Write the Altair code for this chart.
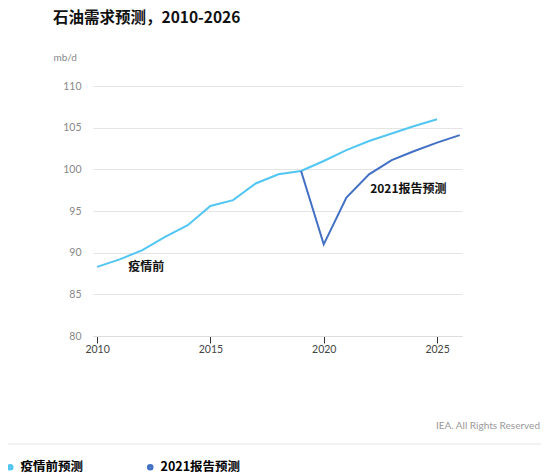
import altair as alt
import pandas as pd

# ---- data ----
years_pre = [2010, 2011, 2012, 2013, 2014, 2015, 2016, 2017, 2018, 2019,
             2020, 2021, 2022, 2023, 2024, 2025]
demand_pre = [88.3, 89.2, 90.3, 91.9, 93.3, 95.6, 96.3, 98.3, 99.4, 99.8,
              101.0, 102.3, 103.4, 104.3, 105.2, 106.0]

years_2021 = [2019, 2020, 2021, 2022, 2023, 2024, 2025, 2026]
demand_2021 = [99.8, 91.0, 96.6, 99.4, 101.1, 102.2, 103.2, 104.1]

series_names = ["疫情前预测", "2021报告预测"]
series_colors = ["#52c6f2", "#4270c4"]

x_ticks = [2010, 2015, 2020, 2025]
y_ticks = [80, 85, 90, 95, 100, 105, 110]

title_text = "石油需求预测，2010-2026"
unit_text = "mb/d"
source_text = "IEA. All Rights Reserved"
label_pre = "疫情前"
label_2021 = "2021报告预测"

df = pd.concat([
    pd.DataFrame({"year": years_pre, "value": demand_pre, "series": series_names[0]}),
    pd.DataFrame({"year": years_2021, "value": demand_2021, "series": series_names[1]}),
], ignore_index=True)

one = alt.Data(values=[{"k": 0}])

NUM_FONT = "Lato"
CJK_FONT = "Noto Sans CJK SC"

lines = alt.Chart(df).mark_line(strokeWidth=2).encode(
    x=alt.X("year:Q",
            scale=alt.Scale(domain=[2009.82, 2026.1], nice=False, zero=False),
            axis=alt.Axis(values=x_ticks, format="d", grid=False, title=None,
                          domainColor="#dddddd", tickColor="#333333", tickSize=7,
                          labelColor="#444444", labelFont=NUM_FONT, labelFontSize=10.5,
                          labelPadding=1)),
    y=alt.Y("value:Q",
            scale=alt.Scale(domain=[80, 110], nice=False, zero=False),
            axis=alt.Axis(values=y_ticks, grid=True, gridColor="#e4e4e4", domain=False,
                          ticks=False, labelColor="#888888", labelFont=NUM_FONT,
                          labelFontSize=10.5, labelPadding=12,
                          title=unit_text, titleAngle=0, titleX=-40, titleY=-29,
                          titleAlign="left", titleBaseline="middle",
                          titleColor="#888888", titleFont=NUM_FONT,
                          titleFontWeight="normal", titleFontSize=10)),
    color=alt.Color("series:N",
                    scale=alt.Scale(domain=series_names, range=series_colors),
                    legend=alt.Legend(title=None, orient="none", legendX=-89, legendY=375,
                                      direction="horizontal", symbolType="circle",
                                      symbolSize=9, symbolStrokeWidth=3.6,
                                      labelFont=CJK_FONT, labelFontSize=12.5,
                                      labelFontWeight="bold", labelColor="#000000",
                                      labelOffset=4, columnPadding=57, padding=0)),
)

title = alt.Chart(one).mark_text(
    text=title_text, align="left", baseline="top", font=CJK_FONT,
    fontSize=15.5, fontWeight="bold", color="#111111",
).encode(x=alt.value(-40), y=alt.value(-75))

ann_pre = alt.Chart(one).mark_text(
    text=label_pre, align="left", baseline="middle", font=CJK_FONT,
    fontSize=12, fontWeight="bold", color="#111111",
).encode(x=alt.datum(2011.38), y=alt.datum(88.25))

ann_2021 = alt.Chart(one).mark_text(
    text=label_2021, align="left", baseline="middle", font=CJK_FONT,
    fontSize=12, fontWeight="bold", color="#111111",
).encode(x=alt.datum(2022.05), y=alt.datum(97.6))

source = alt.Chart(one).mark_text(
    text=source_text, align="right", baseline="middle", font=NUM_FONT,
    fontSize=10, color="#999999",
).encode(x=alt.value(447), y=alt.value(340))

sep = alt.Chart(one).mark_rule(color="#e6e6e6", strokeWidth=1).encode(
    x=alt.value(-90), x2=alt.value(448), y=alt.value(358))

chart = alt.layer(lines, title, ann_pre, ann_2021, source, sep).properties(
    width=369, height=250,
    autosize=alt.AutoSizeParams(type="none"),
    padding={"left": 85, "top": 78, "right": 80, "bottom": 140},
).configure_view(stroke=None)

chart.save("out.html", embed_options={"renderer": "svg", "actions": False})
